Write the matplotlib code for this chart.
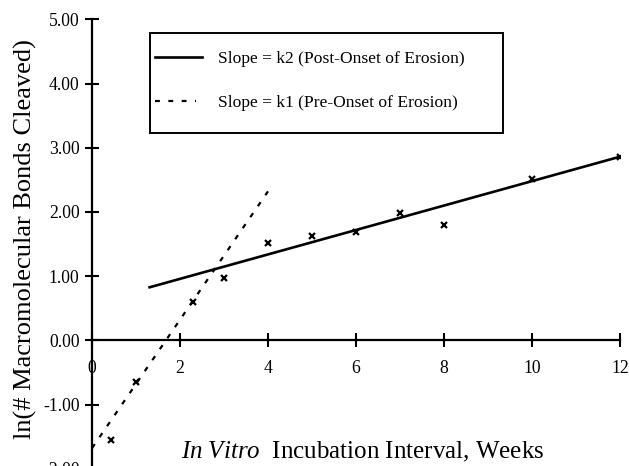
import matplotlib
matplotlib.use("Agg")
import matplotlib.pyplot as plt
from matplotlib.lines import Line2D
from matplotlib.patches import Rectangle

plt.rcParams['font.family'] = ['Liberation Serif', 'DejaVu Serif']
plt.rcParams['mathtext.fontset'] = 'custom'
plt.rcParams['mathtext.rm'] = 'Liberation Serif'
plt.rcParams['mathtext.it'] = 'Liberation Serif:italic'

# data
weeks = [0.43, 1.0, 2.29, 3.0, 4.0, 5.0, 6.0, 7.0, 8.0, 10.0, 12.0]
ln_bonds = [-1.55, -0.65, 0.60, 0.97, 1.51, 1.62, 1.68, 1.99, 1.80, 2.51, 2.85]
k1_x = [0.0, 4.0]          # pre-onset fit (dotted)
k1_y = [-1.68, 2.32]
k2_x = [1.28, 12.0]        # post-onset fit (solid)
k2_y = [0.82, 2.86]
xticks = [0, 2, 4, 6, 8, 10, 12]
yticks = [-2, -1, 0, 1, 2, 3, 4, 5]
legend_labels = ["Slope = k2 (Post-Onset of Erosion)", "Slope = k1 (Pre-Onset of Erosion)"]

W, H = 629, 466
fig = plt.figure(figsize=(W / 100, H / 100), dpi=100)

def fx(px):
    return px / W

def fy(py):
    return 1 - py / H

x0, x1 = 92, 620
ytop, ybot = 19.3, 468.7
ax = fig.add_axes([fx(x0), fy(ybot), fx(x1) - fx(x0), fy(ytop) - fy(ybot)])
ax.set_xlim(0, 12)
ax.set_ylim(-2, 5)
ax.patch.set_alpha(0)

for s in ['top', 'right']:
    ax.spines[s].set_visible(False)
ax.spines['bottom'].set_position(('data', 0))
ax.spines['bottom'].set_linewidth(1.6)
ax.spines['left'].set_linewidth(1.6)

ax.set_xticks(xticks)
ax.set_xticklabels([str(t) for t in xticks])
ax.set_yticks(yticks)
ax.set_yticklabels(["%.2f" % t for t in yticks])
ax.tick_params(axis='both', direction='inout', length=10, width=1.5, labelsize=12.7, colors='black')
ax.tick_params(axis='x', pad=9)
ax.tick_params(axis='y', pad=4)

ax.plot(k2_x, k2_y, color='black', lw=1.9, solid_capstyle='butt', zorder=3)
ax.plot(k1_x, k1_y, color='black', lw=1.6, linestyle=(0, (2.2, 3.8)), zorder=3)
ax.plot(weeks, ln_bonds, linestyle='none', marker='x', markersize=4.5, mew=1.6, color='black', zorder=4)

# legend drawn manually
lx0, lx1, ly0, ly1 = 150, 503, 32.7, 133.3
fig.patches.append(Rectangle((fx(lx0), fy(ly1)), fx(lx1) - fx(lx0), fy(ly0) - fy(ly1),
                             transform=fig.transFigure, facecolor='white', edgecolor='black', lw=1.4))
rows = [57.3, 101.0]
fig.lines.append(Line2D([fx(155), fx(202)], [fy(rows[0])] * 2, transform=fig.transFigure, color='black', lw=1.9))
fig.lines.append(Line2D([fx(155), fx(196)], [fy(rows[1])] * 2, transform=fig.transFigure, color='black', lw=1.6,
                        linestyle=(0, (2.2, 3.8))))
for r, lab in zip(rows, legend_labels):
    fig.text(fx(217.7), fy(r), lab, fontsize=12.6, ha='left', va='center_baseline')

fig.text(fx(25), fy(239), "ln(# Macromolecular Bonds Cleaved)", rotation=90, fontsize=19,
         ha='center', va='center')
fig.text(fx(363), fy(458), r"$\mathit{In\ Vitro}$  Incubation Interval, Weeks", fontsize=18,
         ha='center', va='baseline')

fig.savefig("out.png", dpi=100)
